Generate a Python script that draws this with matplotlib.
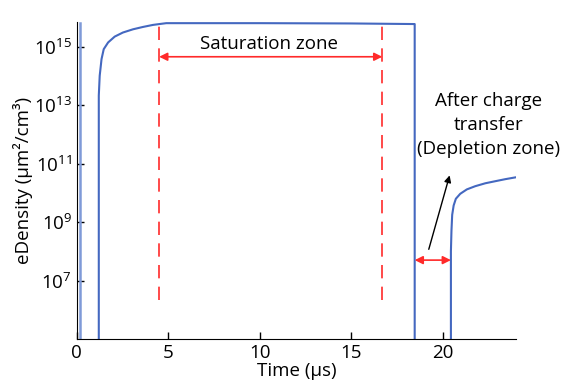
import numpy as np
import matplotlib
matplotlib.use("Agg")
import matplotlib.pyplot as plt
from matplotlib.ticker import FixedLocator, NullLocator

plt.rcParams['font.family'] = ['Open Sans', 'DejaVu Sans']

# readout from the reference (time in us, density as log10)
edge_t = [0.16, 0.16]
edge_log = [4.0, 15.82]

fill_t = [1.20, 1.20, 1.20, 1.25, 1.35, 1.47, 1.71, 2.07, 2.52, 3.07, 3.61, 4.16,
          4.52, 4.89, 10.0, 15.0, 18.40, 18.47, 18.47]
fill_log = [4.0, 8.28, 13.33, 14.01, 14.58, 14.92, 15.15, 15.35, 15.49, 15.60, 15.68, 15.75,
            15.78, 15.81, 15.81, 15.80, 15.78, 15.78, 4.0]

after_t = [20.45, 20.45, 20.48, 20.52, 20.60, 20.72, 20.96, 21.32, 21.78, 22.33, 22.87, 23.42, 23.96]
after_log = [4.0, 8.0, 8.70, 9.25, 9.57, 9.80, 9.97, 10.12, 10.23, 10.33, 10.40, 10.47, 10.53]

sat_start, sat_end = 4.5, 16.7
dep_start, dep_end = 18.47, 20.45

blue = '#4468c0'
red = '#ff2a2a'

fig = plt.figure(figsize=(5.65, 3.91), dpi=100)
ax = fig.add_axes([0.136, 0.133, 0.777, 0.81])

ax.plot(edge_t, 10 ** np.array(edge_log), color='#7f9ad8', lw=1.8)
ax.plot(fill_t, 10 ** np.array(fill_log), color=blue, lw=1.5)
ax.plot(after_t, 10 ** np.array(after_log), color=blue, lw=1.5)

ax.set_yscale('log')
ax.set_xlim(0, 24)
ax.set_ylim(1e5, 10 ** 15.84)

for xv in (sat_start, sat_end):
    ax.plot([xv, xv], [10 ** 6.33, 10 ** 15.88], color=red, lw=1.2,
            dashes=(8, 5), clip_on=False)

ax.annotate('', xy=(sat_start, 10 ** 14.66), xytext=(sat_end, 10 ** 14.66),
            arrowprops=dict(arrowstyle='<|-|>', color=red, lw=1.2,
                            shrinkA=0, shrinkB=0, mutation_scale=12))
ax.text(10.5, 10 ** 15.1, 'Saturation zone', ha='center', va='center', fontsize=13.5)

ax.annotate('', xy=(dep_start, 10 ** 7.7), xytext=(dep_end, 10 ** 7.7),
            arrowprops=dict(arrowstyle='<|-|>', color=red, lw=1.2,
                            shrinkA=0, shrinkB=0, mutation_scale=12))
ax.annotate('', xy=(20.38, 10 ** 10.6), xytext=(19.24, 10 ** 8.07),
            arrowprops=dict(arrowstyle='-|>', color='black', lw=1.0,
                            shrinkA=0, shrinkB=0, mutation_scale=10))
ax.text(22.5, 10 ** 12.33, 'After charge\ntransfer\n(Depletion zone)', ha='center',
        va='center', fontsize=13.5, linespacing=1.45, clip_on=False)

ax.yaxis.set_major_locator(FixedLocator([1e7, 1e9, 1e11, 1e13, 1e15]))
ax.yaxis.set_minor_locator(NullLocator())
ax.set_xticks([0, 5, 10, 15, 20])
ax.tick_params(direction='in', length=5, width=1, labelsize=13.5)
ax.spines['top'].set_visible(False)
ax.spines['right'].set_visible(False)

ax.set_xlabel('Time (µs)', fontsize=13.5, labelpad=0)
ax.set_ylabel('eDensity (µm²/cm³)', fontsize=13.5, labelpad=1)

fig.savefig('out.png', dpi=100)
